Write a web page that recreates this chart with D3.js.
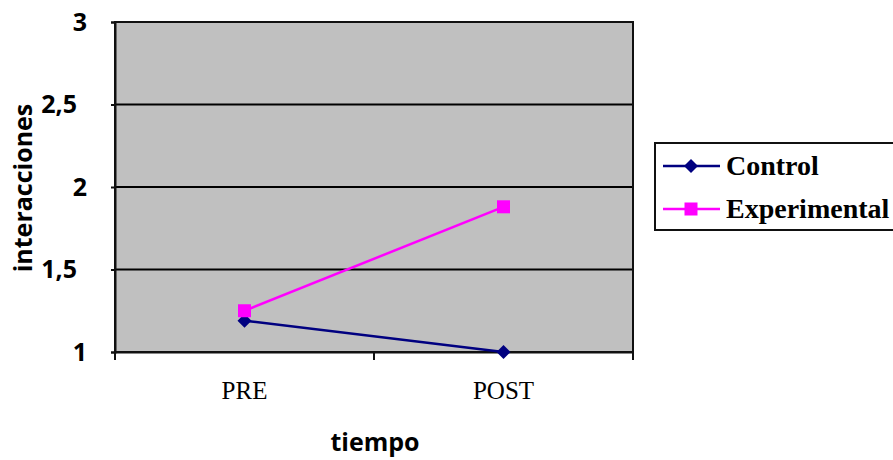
<!DOCTYPE html>
<html>
<head>
<meta charset="utf-8">
<script src="https://cdn.jsdelivr.net/npm/d3@7"></script>
<style>
  body { margin: 0; background: #fff; }
  svg { display: block; }
</style>
</head>
<body>
<div id="chart"></div>
<script>
const categories = ["PRE", "POST"];
const controlValues = [1.19, 1.0];
const experimentalValues = [1.25, 1.88];
const yTicks = [1, 1.5, 2, 2.5, 3];
const seriesNames = ["Control", "Experimental"];

const W = 893, H = 460;
const margin = { left: 115, right: 260, top: 22, bottom: 108 };
const pw = W - margin.left - margin.right;
const ph = H - margin.top - margin.bottom;

const svg = d3.select("#chart").append("svg")
    .attr("width", W).attr("height", H);

const g = svg.append("g").attr("transform", `translate(${margin.left},${margin.top})`);

const x = d3.scaleBand().domain(categories).range([0, pw]);
const y = d3.scaleLinear().domain([1, 3]).range([ph, 0]);

// plot area
g.append("rect").attr("width", pw).attr("height", ph).attr("fill", "#c0c0c0");

// gridlines
g.selectAll("line.grid").data(yTicks.slice(1, -1)).enter().append("line")
    .attr("x1", 0).attr("x2", pw)
    .attr("y1", d => y(d)).attr("y2", d => y(d))
    .attr("stroke", "#000").attr("stroke-width", 2);

g.append("rect").attr("width", pw).attr("height", ph)
    .attr("fill", "none").attr("stroke", "#111").attr("stroke-width", 2);

// y axis
const fmt = d => String(d).replace(".", ",");
const yAxis = g.append("g").call(d3.axisLeft(y).tickValues(yTicks).tickFormat(fmt).tickSize(4).tickPadding(24));
yAxis.select(".domain").attr("stroke", "#111").attr("stroke-width", 2);
yAxis.selectAll(".tick line").attr("stroke", "#111").attr("stroke-width", 2);
yAxis.selectAll("text")
    .style("font-family", "'Open Sans', sans-serif")
    .style("font-weight", "bold").style("font-size", "25px").attr("fill", "#000")
    .attr("dx", d => Number.isInteger(d) ? 0 : -10);

// x axis
const xAxis = g.append("g").attr("transform", `translate(0,${ph})`)
    .call(d3.axisBottom(x).tickSize(0).tickPadding(29));
xAxis.select(".domain").attr("stroke", "#111").attr("stroke-width", 2);
xAxis.selectAll("text")
    .style("font-family", "'Liberation Serif', 'Times New Roman', serif")
    .style("font-size", "25px").attr("fill", "#000");
// category boundary ticks
xAxis.selectAll("line.bt").data([0, x.bandwidth(), pw]).enter().append("line")
    .attr("x1", d => d).attr("x2", d => d).attr("y1", 0).attr("y2", 8)
    .attr("stroke", "#111").attr("stroke-width", 2);

const cx = d => x(d) + x.bandwidth() / 2;
const line = d3.line().x(d => cx(d.c)).y(d => y(d.v));

const series = [
    { name: seriesNames[0], values: controlValues, color: "#000080", shape: "diamond" },
    { name: seriesNames[1], values: experimentalValues, color: "#ff00ff", shape: "square" }
];

function drawMarker(sel, s, px, py) {
    if (s.shape === "diamond") {
        sel.append("path")
            .attr("d", `M${px},${py - 7}L${px + 7},${py}L${px},${py + 7}L${px - 7},${py}Z`)
            .attr("fill", s.color);
    } else {
        sel.append("rect").attr("x", px - 6.5).attr("y", py - 6.5)
            .attr("width", 13).attr("height", 13).attr("fill", s.color);
    }
}

series.forEach(s => {
    const pts = categories.map((c, i) => ({ c, v: s.values[i] }));
    g.append("path").datum(pts).attr("d", line)
        .attr("fill", "none").attr("stroke", s.color).attr("stroke-width", 2.5);
    pts.forEach(p => drawMarker(g, s, cx(p.c), y(p.v)));
});

// axis titles
svg.append("text").attr("x", margin.left + pw / 2 + 1).attr("y", 451)
    .attr("text-anchor", "middle")
    .style("font-family", "'Open Sans', sans-serif").style("font-weight", "bold")
    .style("font-size", "25px").text("tiempo");
svg.append("text")
    .attr("transform", `translate(32,${margin.top + ph / 2 + 1}) rotate(-90)`)
    .attr("text-anchor", "middle")
    .style("font-family", "'Open Sans', sans-serif").style("font-weight", "bold")
    .style("font-size", "25px").text("interacciones");

// legend
const lg = svg.append("g");
lg.append("rect").attr("x", 655).attr("y", 143).attr("width", 250).attr("height", 87)
    .attr("fill", "#fff").attr("stroke", "#111").attr("stroke-width", 2);
series.forEach((s, i) => {
    const ly = 166 + i * 43;
    lg.append("line").attr("x1", 663).attr("x2", 720).attr("y1", ly).attr("y2", ly)
        .attr("stroke", s.color).attr("stroke-width", 2.5);
    drawMarker(lg, s, 691, ly);
    lg.append("text").attr("x", 726).attr("y", ly + 9)
        .style("font-family", "'Liberation Serif', 'Times New Roman', serif")
        .style("font-weight", "bold").style("font-size", "28px").text(s.name);
});
</script>
</body>
</html>
